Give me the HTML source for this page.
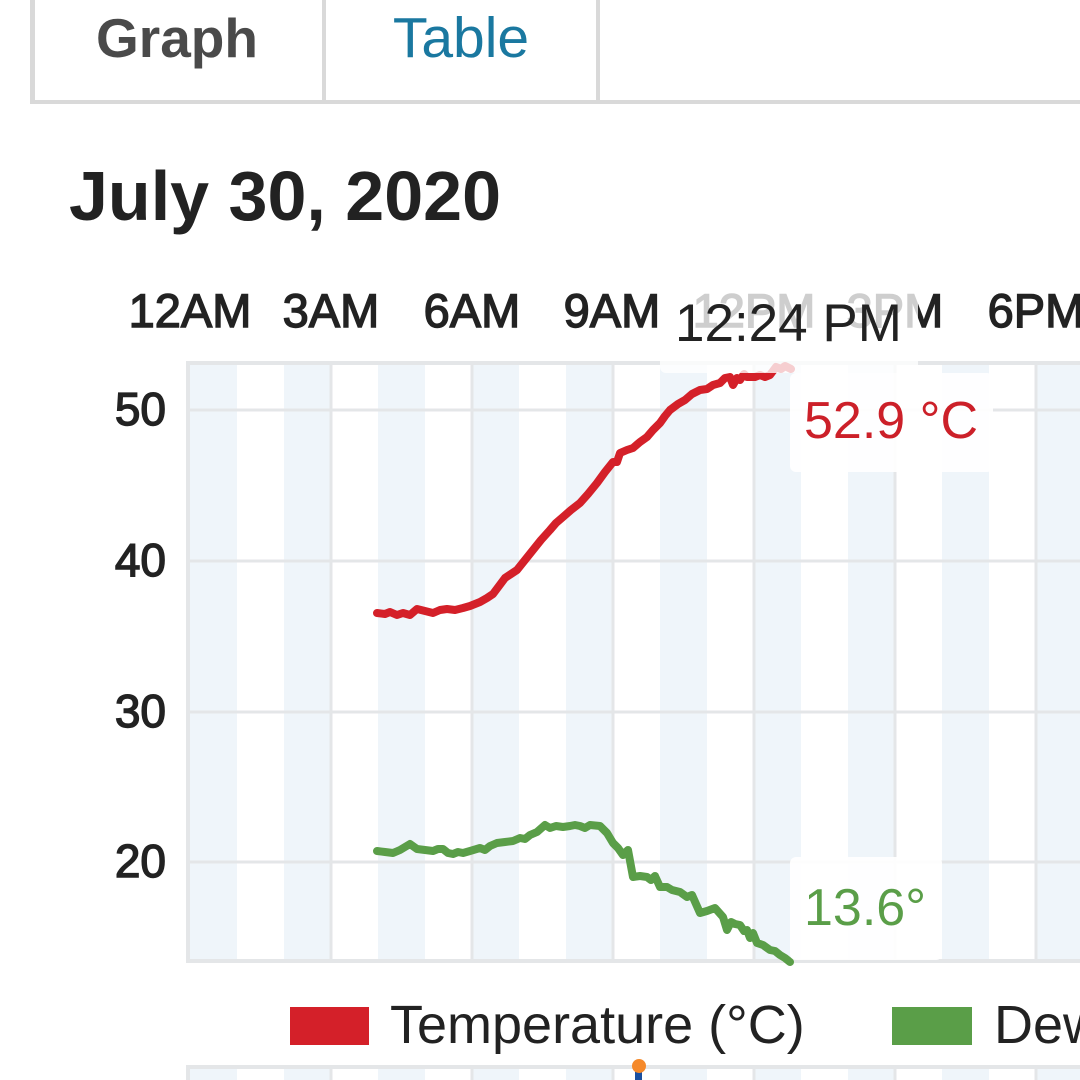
<!DOCTYPE html>
<html>
<head>
<meta charset="utf-8">
<style>
html,body{margin:0;padding:0;background:#fff;}
body{width:1080px;height:1080px;overflow:hidden;}
svg{display:block;}
text{font-family:"Liberation Sans",Arial,sans-serif;}
</style>
</head>
<body>
<svg width="1080" height="1080" viewBox="0 0 1080 1080" xmlns="http://www.w3.org/2000/svg">
  <rect width="1080" height="1080" fill="#fff"/>

  <!-- Tabs -->
  <rect x="30" y="-5" width="5" height="109" fill="#d9d9d9"/>
  <rect x="322" y="-5" width="4" height="109" fill="#d9d9d9"/>
  <rect x="596" y="-5" width="4" height="109" fill="#d9d9d9"/>
  <rect x="30" y="100" width="1050" height="4" fill="#d9d9d9"/>
  <text x="177" y="57" font-size="55" font-weight="bold" fill="#4a4a4a" text-anchor="middle">Graph</text>
  <text x="461" y="57" font-size="57" fill="#1a78a0" text-anchor="middle">Table</text>

  <!-- Title -->
  <text x="69" y="220" font-size="70" font-weight="bold" fill="#222">July 30, 2020</text>

  <!-- X tick labels -->
  <g font-size="47" fill="#222" stroke="#222" stroke-width="1.4" text-anchor="middle">
    <text x="190" y="327">12AM</text>
    <text x="331" y="327">3AM</text>
    <text x="472" y="327">6AM</text>
    <text x="612" y="327">9AM</text>
    <text x="754" y="327">12PM</text>
    <text x="895" y="327">3PM</text>
    <text x="1036" y="327">6PM</text>
  </g>

  <!-- Y tick labels -->
  <g font-size="46" fill="#222" stroke="#222" stroke-width="1.4" text-anchor="end">
    <text x="166" y="425">50</text>
    <text x="166" y="576">40</text>
    <text x="166" y="727">30</text>
    <text x="166" y="877">20</text>
  </g>

  <!-- Plot bands -->
  <g fill="#eff5fa">
    <rect x="190" y="364" width="47" height="596"/>
    <rect x="284" y="364" width="47" height="596"/>
    <rect x="378" y="364" width="47" height="596"/>
    <rect x="472" y="364" width="47" height="596"/>
    <rect x="566" y="364" width="47" height="596"/>
    <rect x="660" y="364" width="47" height="596"/>
    <rect x="754" y="364" width="47" height="596"/>
    <rect x="848" y="364" width="47" height="596"/>
    <rect x="942" y="364" width="47" height="596"/>
    <rect x="1036" y="364" width="47" height="596"/>
  </g>
  <!-- Grid -->
  <g stroke="#e4e6e8" stroke-width="3">
    <line x1="188" y1="410" x2="1080" y2="410"/>
    <line x1="188" y1="561" x2="1080" y2="561"/>
    <line x1="188" y1="712" x2="1080" y2="712"/>
    <line x1="188" y1="862" x2="1080" y2="862"/>
    <line x1="331" y1="363" x2="331" y2="961"/>
    <line x1="472" y1="363" x2="472" y2="961"/>
    <line x1="613" y1="363" x2="613" y2="961"/>
    <line x1="754" y1="363" x2="754" y2="961"/>
    <line x1="895" y1="363" x2="895" y2="961"/>
    <line x1="1036" y1="363" x2="1036" y2="961"/>
  </g>
  <!-- Frame -->
  <g stroke="#e4e6e8" stroke-width="4" fill="none">
    <line x1="188" y1="363" x2="1080" y2="363"/>
    <line x1="188" y1="961" x2="1080" y2="961"/>
    <line x1="188" y1="361" x2="188" y2="963"/>
  </g>

  <!-- Temperature line -->
  <polyline fill="none" stroke="#d42029" stroke-width="8" stroke-linejoin="round" stroke-linecap="round"
    points="377,613 385,614 390,612 397,615 403,613 410,615 417,609 425,611 433,613 440,610 447,609 455,610 463,608 470,606 480,602 487,598 493,594 499,586 505,578 511,574 517,570 525,560 533,550 541,540 550,530 556,523 563,517 571,510 580,503 588,494 597,483 605,472 613,462 617,462 620,453 627,450 633,448 640,442 647,437 653,430 660,423 665,416 670,410 678,404 685,400 692,394 700,390 707,389 713,385 720,383 725,378 730,377 733,385 737,378 740,380 744,374 747,377 755,377 760,375 765,377 770,375 776,367 781,369 785,366 791,369"/>

  <!-- Dew point line -->
  <polyline fill="none" stroke="#5a9e48" stroke-width="8" stroke-linejoin="round" stroke-linecap="round"
    points="377,851 385,852 393,853 400,850 405,847 410,844 417,849 425,850 433,851 438,849 443,849 448,853 453,854 458,852 463,853 470,851 480,848 485,850 490,846 497,843 505,842 513,841 520,838 525,839 530,835 537,832 545,825 550,828 556,826 563,827 570,826 575,825 580,826 585,828 590,825 600,826 607,833 613,843 618,848 623,855 628,850 633,877 640,876 647,877 651,880 655,876 660,887 667,887 672,890 680,892 687,897 692,895 700,913 707,911 715,908 723,917 727,930 731,922 735,924 740,925 744,931 747,930 750,938 753,933 757,943 763,945 770,950 775,951 780,955 785,958 790,962"/>

  <!-- Tooltip boxes -->
  <rect x="660" y="278" width="258" height="95" rx="6" fill="#fff" fill-opacity="0.78"/>
  <rect x="790" y="373" width="203" height="99" rx="6" fill="#fff" fill-opacity="0.9"/>
  <rect x="790" y="857" width="152" height="103" rx="6" fill="#fff" fill-opacity="0.9"/>

  <text x="675" y="341" font-size="53" fill="#222">12:24 PM</text>
  <text x="804" y="438" font-size="52" fill="#cc2029">52.9 °C</text>
  <text x="804" y="925" font-size="52" fill="#5a9e48">13.6°</text>

  <!-- Legend -->
  <rect x="290" y="1007" width="79" height="38" fill="#d42029"/>
  <text x="390" y="1043" font-size="54" fill="#222">Temperature (°C)</text>
  <rect x="892" y="1007" width="80" height="38" fill="#5a9e48"/>
  <text x="994" y="1043" font-size="54" fill="#222">Dew</text>

  <!-- Second chart top -->
  <g fill="#eff5fa">
    <rect x="190" y="1069" width="47" height="11"/>
    <rect x="284" y="1069" width="47" height="11"/>
    <rect x="378" y="1069" width="47" height="11"/>
    <rect x="472" y="1069" width="47" height="11"/>
    <rect x="566" y="1069" width="47" height="11"/>
    <rect x="660" y="1069" width="47" height="11"/>
    <rect x="754" y="1069" width="47" height="11"/>
    <rect x="848" y="1069" width="47" height="11"/>
    <rect x="942" y="1069" width="47" height="11"/>
    <rect x="1036" y="1069" width="47" height="11"/>
  </g>
  <g stroke="#e4e6e8" stroke-width="3">
    <line x1="331" y1="1067" x2="331" y2="1080"/>
    <line x1="472" y1="1067" x2="472" y2="1080"/>
    <line x1="613" y1="1067" x2="613" y2="1080"/>
    <line x1="754" y1="1067" x2="754" y2="1080"/>
    <line x1="895" y1="1067" x2="895" y2="1080"/>
    <line x1="1036" y1="1067" x2="1036" y2="1080"/>
  </g>
  <line x1="188" y1="1067" x2="1080" y2="1067" stroke="#e4e6e8" stroke-width="4"/>
  <line x1="188" y1="1065" x2="188" y2="1080" stroke="#e4e6e8" stroke-width="4"/>
  <rect x="635" y="1070" width="7" height="12" fill="#1a4fa0"/>
  <circle cx="639" cy="1066" r="7" fill="#f5892a"/>
</svg>
</body>
</html>
